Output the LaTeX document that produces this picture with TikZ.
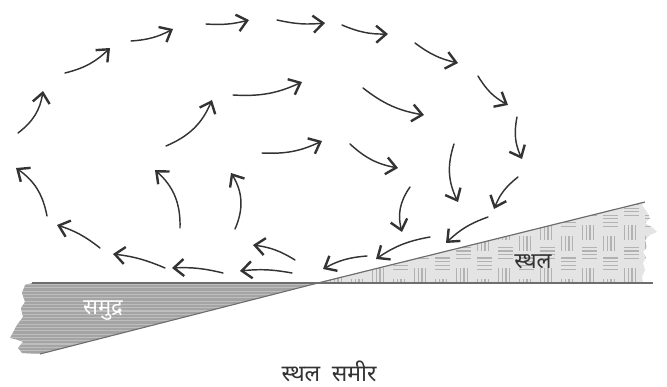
\documentclass[tikz,border=0pt]{standalone}
\usepackage{fontspec}
\newfontfamily\deva[Script=Devanagari]{Noto Sans}
\usetikzlibrary{arrows.meta}
\definecolor{ink}{HTML}{333333}
\definecolor{seafill}{HTML}{A4A4A4}
\definecolor{seastripe}{HTML}{BEBEBE}
\definecolor{landfill}{HTML}{E4E4E4}
\definecolor{landmark}{HTML}{B2B2B2}
\definecolor{edgegrey}{HTML}{6E6E6E}
\tikzset{
  flow/.style={draw=ink, line width=1.45pt, line cap=round,
    -{Straight Barb[length=10pt,width=17pt,line width=2.4pt]}},
  mark line/.style={draw=landmark, line width=1.1pt},
  label text/.style={font=\deva\fontsize{22}{26}\selectfont, inner sep=0pt},
}
\begin{document}
\begin{tikzpicture}[x=1pt,y=-1pt]
\useasboundingbox (0,0) rectangle (667,387);

% sea wedge with horizontal stripes
\begin{scope}
  \clip (32,283) -- (318,283) -- (40,354) -- (22,353) -- (18,348) -- (23,342)
        -- (18,340) -- (10,338) -- (17,325) -- (23,317) -- (21,308) -- (25,302)
        -- (22,293) -- (25,285) -- cycle;
  \fill[seafill] (0,270) rectangle (330,360);
  \foreach \k in {0,...,22}
    \draw[seastripe, line width=1.1pt] (0,284.6+3.3*\k) -- (330,284.6+3.3*\k);
\end{scope}
\draw[edgegrey, line width=1.1pt] (318,283) -- (40,354);

% land wedge with basket-weave marks
\begin{scope}
  \clip (318,283) -- (645,202) -- (642,205) -- (647,212) -- (650,218) -- (645,223)
        -- (653,228) -- (657,232) -- (650,235) -- (645,240) -- (647,247) -- (643,252)
        -- (646,257) -- (643,263) -- (645,270) -- (642,277) -- (643,283) -- cycle;
  \fill[landfill] (300,190) rectangle (670,290);
  \foreach \i in {0,...,8}{
    \foreach \j in {0,1,2}{
      \pgfmathsetmacro\bx{309+42*\i}
      \pgfmathsetmacro\by{193.2+42.8*\j}
      \foreach \k in {0,1,2,3}{
        \draw[mark line] (\bx+0.6+3.7*\k, \by) -- ++(0,15);
        \draw[mark line] (\bx+21, \by+11.3+3.7*\k) -- ++(15,0);
        \draw[mark line] (\bx, \by+22+3.7*\k) -- ++(15,0);
        \draw[mark line] (\bx+21.6+3.7*\k, \by+32.1) -- ++(0,15);
      }
    }
  }
\end{scope}
\draw[edgegrey, line width=1.2pt] (318,283) -- (645,202);
\draw[edgegrey, line width=1.4pt] (32,283) -- (653,283);

% circulation arrows: outer, middle and inner loops
\foreach \ax/\ay/\bx/\by/\t in {
  47/216/16/168/22, 18/133/43/91/22, 65/73/110/48/15, 131/41/173/29/12,
  206/24/249/20/9, 277/20/325/23/9, 342/25/388/34/12, 415/43/458/63/12,
  478/76/508/105/15, 517/117/522/159/18, 518/177/494/209/15, 488/217/446/243/12,
  430/237/376/259/12, 367/256/323/269/12, 292/273/240/271/8, 223/273/172/268/8,
  165/268/113/254/8, 100/248/57/225/10,
  180/228/155/170/25, 166/146/212/100/22, 233/95/302/82/14, 363/88/424/115/14,
  454/144/458/202/22,
  235/229/231/173/28, 262/153/322/141/14, 350/144/398/168/16, 410/187/402/232/25,
  295/260/253/245/12}
  \draw[flow] (\ax,\ay) to[bend right=\t] (\bx,\by);

% labels
\node[label text, text=white] (sea) at (103,311) {समुद्र};
\node[label text, text=ink] (land) at (533,262) {स्थल};
\node[label text, text=ink, font=\deva\fontsize{23}{27}\selectfont] (caption) at (329,371) {स्थल\hspace{0.5em}समीर};
\end{tikzpicture}
\end{document}
